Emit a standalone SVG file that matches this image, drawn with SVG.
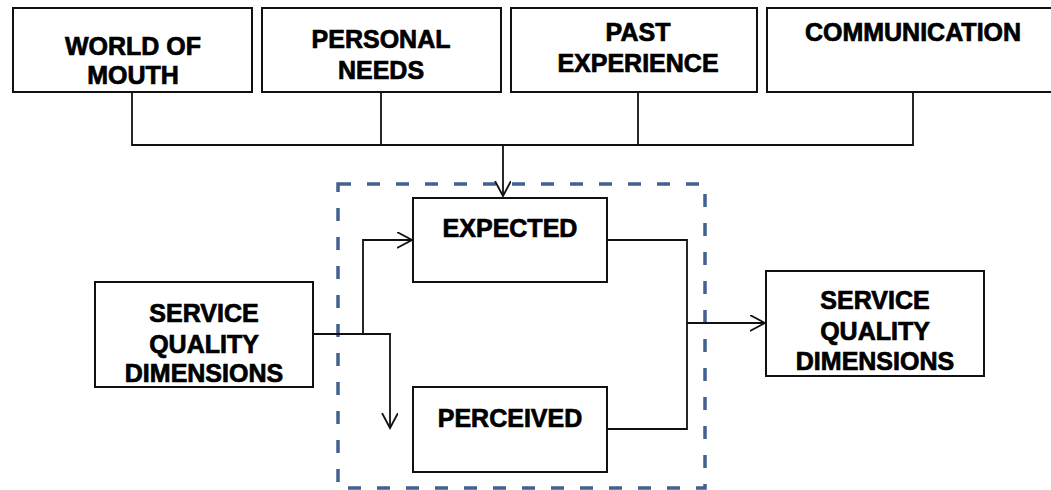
<svg xmlns="http://www.w3.org/2000/svg" width="1051" height="490" viewBox="0 0 1051 490">
  <style>
    .box { fill: #ffffff; stroke: #111111; stroke-width: 2; }
    .lbl { font-family: "Liberation Sans", Arial, sans-serif; font-weight: bold; font-size: 25px; fill: #000000; stroke: #000000; stroke-width: 0.7; text-anchor: middle; }
    .wire { fill: none; stroke: #111111; stroke-width: 1.8; }
    .frame { fill: none; stroke: #41628f; stroke-width: 3.5; stroke-dasharray: 13 16; }
  </style>
  <defs>
    <marker id="open-arrow" markerUnits="userSpaceOnUse" markerWidth="18" markerHeight="20" refX="15" refY="8" orient="auto">
      <path d="M0,0 L15,8 L0,16" fill="none" stroke="#111111" stroke-width="1.8"/>
    </marker>
  </defs>

  <rect width="1051" height="490" fill="#ffffff"/>

  <!-- dashed grouping frame -->
  <rect class="frame" x="338" y="184" width="367" height="304"/>

  <!-- connectors -->
  <g id="connectors">
    <polyline class="wire" points="132,92 132,145 913,145 913,92"/>
    <line class="wire" x1="381" y1="92" x2="381" y2="145"/>
    <line class="wire" x1="638" y1="92" x2="638" y2="145"/>
    <line class="wire" x1="503" y1="145" x2="503" y2="196" marker-end="url(#open-arrow)"/>
    <polyline class="wire" points="313,334 363,334 363,240 412,240" marker-end="url(#open-arrow)"/>
    <polyline class="wire" points="363,334 390,334 390,428" marker-end="url(#open-arrow)"/>
    <polyline class="wire" points="607,240 687,240 687,429 607,429"/>
    <line class="wire" x1="687" y1="323" x2="765" y2="323" marker-end="url(#open-arrow)"/>
  </g>

  <g id="word-of-mouth">
    <rect class="box" x="13" y="8" width="239" height="84"/>
    <text class="lbl" x="133" y="55">WORLD OF</text>
    <text class="lbl" x="133" y="84">MOUTH</text>
  </g>

  <g id="personal-needs">
    <rect class="box" x="262" y="8" width="239" height="84"/>
    <text class="lbl" x="381" y="48">PERSONAL</text>
    <text class="lbl" x="381" y="79">NEEDS</text>
  </g>

  <g id="past-experience">
    <rect class="box" x="511" y="8" width="246" height="84"/>
    <text class="lbl" x="638" y="41">PAST</text>
    <text class="lbl" x="638" y="72">EXPERIENCE</text>
  </g>

  <g id="communication">
    <rect class="box" x="767" y="8" width="290" height="84"/>
    <text class="lbl" x="913" y="41">COMMUNICATION</text>
  </g>

  <g id="expected">
    <rect class="box" x="413" y="198" width="194" height="84"/>
    <text class="lbl" x="510" y="237">EXPECTED</text>
  </g>

  <g id="perceived">
    <rect class="box" x="413" y="387" width="194" height="85"/>
    <text class="lbl" x="510" y="427">PERCEIVED</text>
  </g>

  <g id="service-quality-in">
    <rect class="box" x="95" y="282" width="218" height="105"/>
    <text class="lbl" x="204" y="322">SERVICE</text>
    <text class="lbl" x="204" y="353">QUALITY</text>
    <text class="lbl" x="204" y="382">DIMENSIONS</text>
  </g>

  <g id="service-quality-out">
    <rect class="box" x="766" y="271" width="218" height="105"/>
    <text class="lbl" x="875" y="309">SERVICE</text>
    <text class="lbl" x="875" y="340">QUALITY</text>
    <text class="lbl" x="875" y="370">DIMENSIONS</text>
  </g>
</svg>
